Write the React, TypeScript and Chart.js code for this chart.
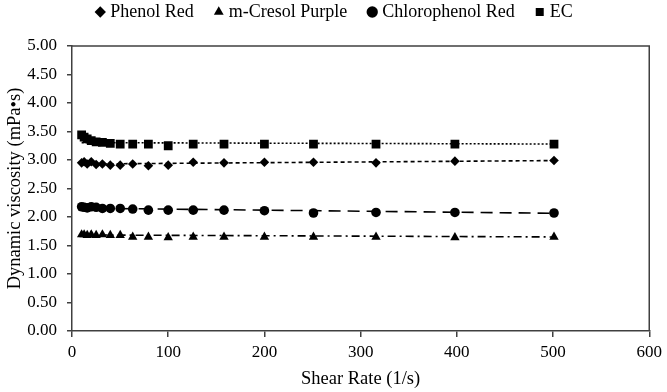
import React, { useEffect, useRef } from 'react';
import { Chart, registerables } from 'chart.js';

Chart.register(...registerables);

// Shear rate (1/s)
const shearRates = [10, 12.6, 15.8, 20, 25.1, 31.6, 39.8, 50.1, 63.1, 79.4, 100, 126, 158, 200, 251, 316, 398, 501];

// Dynamic viscosity (mPa•s)
const phenolRed = [2.95, 2.97, 2.93, 2.97, 2.92, 2.93, 2.91, 2.91, 2.93, 2.9, 2.91, 2.96, 2.95, 2.96, 2.96, 2.95, 2.98, 2.99];
const mCresolPurple = [1.69, 1.69, 1.68, 1.69, 1.68, 1.69, 1.68, 1.68, 1.65, 1.65, 1.64, 1.65, 1.65, 1.65, 1.65, 1.65, 1.64, 1.65];
const chlorophenolRed = [2.18, 2.17, 2.16, 2.18, 2.17, 2.15, 2.15, 2.15, 2.14, 2.12, 2.12, 2.12, 2.12, 2.11, 2.07, 2.08, 2.08, 2.07];
const ec = [3.44, 3.4, 3.37, 3.34, 3.32, 3.31, 3.29, 3.28, 3.28, 3.28, 3.25, 3.28, 3.28, 3.28, 3.28, 3.28, 3.28, 3.28];

// Trendline end values (at first and last shear rate)
const trendX = [10, 501];
const phenolRedTrend = [2.93, 2.99];
const mCresolPurpleTrend = [1.685, 1.65];
const chlorophenolRedTrend = [2.155, 2.065];
const ecTrend = [3.305, 3.28];

const seriesNames = ['Phenol Red', 'm-Cresol Purple', 'Chlorophenol Red', 'EC'];

const FONT = 'Liberation Serif';
const AXIS = '#404040';

Chart.defaults.font.family = FONT;

const toPoints = (xs: number[], ys: number[]) => xs.map((x, i) => ({ x, y: ys[i] }));

const boxPlugin = {
  id: 'boxPlugin',
  afterInit(chart: any) {
    const legend = chart.legend;
    if (legend) {
      const orig = legend.fit.bind(legend);
      legend.fit = function () {
        orig();
        this.height = 67;
      };
    }
  },
  afterLayout(chart: any) {
    const legend = chart.legend;
    if (legend) {
      legend.left += 10;
      legend.right += 10;
    }
  },
  afterDraw(chart: any) {
    const { ctx, chartArea } = chart;
    ctx.save();
    ctx.strokeStyle = AXIS;
    ctx.lineWidth = 1.5;
    ctx.beginPath();
    ctx.moveTo(chartArea.left, chartArea.top);
    ctx.lineTo(chartArea.right, chartArea.top);
    ctx.lineTo(chartArea.right, chartArea.bottom);
    ctx.stroke();
    ctx.restore();
  },
};

export default function App() {
  const ref = useRef<HTMLCanvasElement | null>(null);

  useEffect(() => {
    document.body.style.margin = '0';
    const canvas = ref.current;
    if (!canvas) return;

    const trend = (ys: number[], dash: number[]) => ({
      type: 'line' as const,
      label: '_trend',
      data: toPoints(trendX, ys),
      borderColor: '#000',
      borderWidth: 1.6,
      borderDash: dash,
      pointRadius: 0,
      showLine: true,
      fill: false,
    });

    const markers = (label: string, ys: number[], style: string, radius: number) => ({
      type: 'scatter' as const,
      label,
      data: toPoints(shearRates, ys),
      pointStyle: style,
      pointRadius: radius,
      backgroundColor: '#000',
      borderColor: '#000',
      borderWidth: 0,
      showLine: false,
    });

    const chart = new Chart(canvas, {
      type: 'scatter',
      data: {
        datasets: [
          trend(phenolRedTrend, [4, 3]),
          trend(mCresolPurpleTrend, [8, 4, 2, 4]),
          trend(chlorophenolRedTrend, [12, 7]),
          trend(ecTrend, [2, 2]),
          markers(seriesNames[0], phenolRed, 'rectRot', 4.8),
          markers(seriesNames[1], mCresolPurple, 'triangle', 5.4),
          markers(seriesNames[2], chlorophenolRed, 'circle', 4.8),
          markers(seriesNames[3], ec, 'rect', 6.2),
        ] as any,
      },
      options: {
        animation: false,
        responsive: true,
        maintainAspectRatio: false,
        font: { family: FONT },
        layout: { padding: { left: 0, right: 15, top: -21, bottom: 0 } },
        plugins: {
          tooltip: { enabled: false },
          legend: {
            position: 'top',
            align: 'center',
            labels: {
              filter: (item: any) => item.text !== '_trend',
              usePointStyle: true,
              boxWidth: 2,
              boxHeight: 8,
              padding: 24,
              color: '#000',
              font: { family: FONT, size: 18, style: 'normal', weight: 'normal' },
            },
          },
        },
        scales: {
          x: {
            type: 'linear',
            min: 0,
            max: 600,
            afterFit: (s: any) => {
              s.height = 61;
            },
            ticks: {
              stepSize: 100,
              color: '#000',
              padding: 5,
              font: { family: FONT, size: 17 },
            },
            grid: {
              drawOnChartArea: false,
              drawTicks: true,
              tickLength: 6,
              color: AXIS,
              lineWidth: 1.5,
            },
            border: { color: AXIS, width: 1.5 },
            title: {
              display: true,
              text: 'Shear Rate (1/s)',
              color: '#000',
              font: { family: FONT, size: 18.5 },
              padding: { top: 0, bottom: 2 },
            },
          },
          y: {
            type: 'linear',
            min: 0,
            max: 5,
            afterFit: (s: any) => {
              s.width = 72;
            },
            ticks: {
              stepSize: 0.5,
              color: '#000',
              padding: 10,
              font: { family: FONT, size: 17 },
              callback: (v: any) => Number(v).toFixed(2),
            },
            grid: {
              drawOnChartArea: false,
              drawTicks: true,
              tickLength: 5,
              color: AXIS,
              lineWidth: 1.5,
            },
            border: { color: AXIS, width: 1.5 },
            title: {
              display: true,
              text: 'Dynamic viscosity (mPa•s)',
              color: '#000',
              font: { family: FONT, size: 18.5 },
              padding: { top: 4, bottom: 0 },
            },
          },
        },
      },
      plugins: [boxPlugin],
    });

    return () => chart.destroy();
  }, []);

  return (
    <div style={{ position: 'relative', width: 667, height: 392 }}>
      <canvas ref={ref} />
    </div>
  );
}
